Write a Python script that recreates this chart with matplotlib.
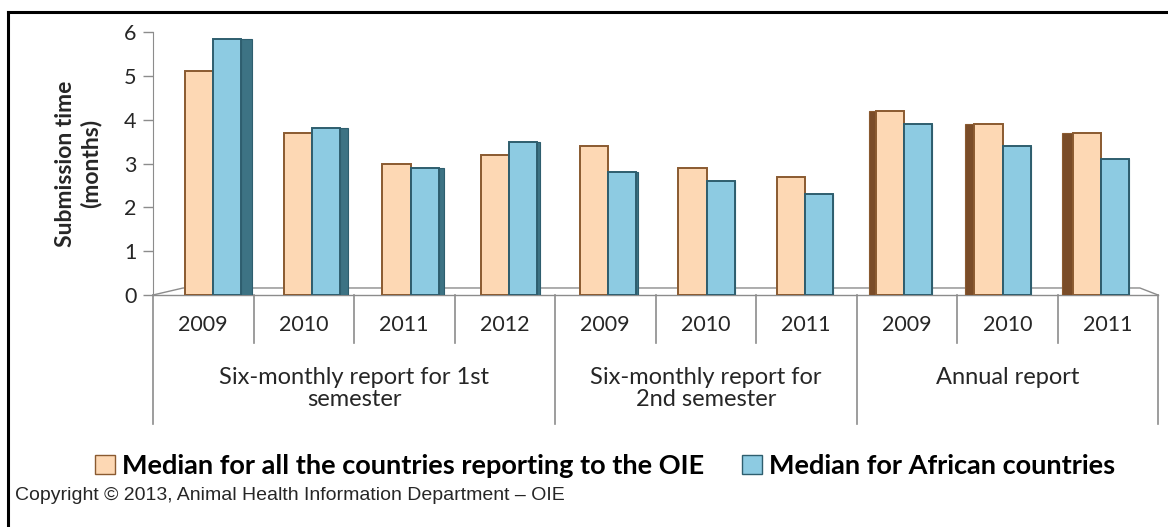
import matplotlib
matplotlib.use("Agg")
import matplotlib.pyplot as plt
import matplotlib.transforms as mtransforms
from matplotlib.patches import Patch
import numpy as np

# data
years = ["2009", "2010", "2011", "2012", "2009", "2010", "2011", "2009", "2010", "2011"]
groups = ["Six-monthly report for 1st\nsemester", "Six-monthly report for\n2nd semester", "Annual report"]
group_sizes = [4, 3, 3]
median_all = [5.1, 3.7, 3.0, 3.2, 3.4, 2.9, 2.7, 4.2, 3.9, 3.7]
median_africa = [5.85, 3.8, 2.9, 3.5, 2.8, 2.6, 2.3, 3.9, 3.4, 3.1]
series_names = ["Median for all the countries reporting to the OIE", "Median for African countries"]

orange_face, orange_edge, orange_side = "#FDD8B4", "#8A5A30", "#7A4C28"
blue_face, blue_edge, blue_side = "#8DCBE2", "#2E5E6E", "#3D7384"
grid_gray = "#8C8C8C"
txt = "#262626"

W, H = 1168, 527
fig = plt.figure(figsize=(W / 100, H / 100), dpi=100)
ax = fig.add_axes([153 / W, 1 - 295 / H, (1158 - 153) / W, (295 - 32) / H])

n = len(years)
idx = np.arange(n)
bw = 0.28
centers = idx + 0.60 - 0.0183 * idx
# depth of the 3d side faces (right side on blue at left, left side on orange at right)
right_depth = [0.11, 0.08, 0.05, 0.03, 0.015, 0.0, 0.0, 0.0, 0.0, 0.0]
left_depth = [0.0, 0.0, 0.0, 0.0, 0.0, 0.0, 0.0, 0.07, 0.09, 0.11]

ax.bar(centers - bw / 2, median_all, bw, color=orange_face, edgecolor=orange_edge, linewidth=1.4, zorder=3)
ax.bar(centers + bw / 2, median_africa, bw, color=blue_face, edgecolor=blue_edge, linewidth=1.4, zorder=3)
ax.bar(centers + bw, median_africa, right_depth, align="edge", color=blue_side, edgecolor=blue_edge,
       linewidth=0.8, zorder=2)
ax.bar(centers - bw, median_all, [-d for d in left_depth], align="edge", color=orange_side,
       edgecolor=orange_edge, linewidth=0.8, zorder=2)

ax.set_xlim(0, n)
ax.set_ylim(0, 6)
ax.set_yticks(range(7))
ax.set_xticks([])
for s in ["top", "right", "bottom"]:
    ax.spines[s].set_visible(False)
ax.spines["left"].set_color(grid_gray)
ax.tick_params(axis="y", colors=grid_gray, length=7, width=1, labelsize=15.5, labelcolor=txt, pad=5)
for lab in ax.get_yticklabels():
    lab.set_fontfamily("Lato")

# floor of the 3d plot
ax.plot([0, n], [0, 0], color=grid_gray, lw=1, clip_on=False, zorder=1)
ax.plot([0, 0.3, n - 0.18, n], [0, 0.16, 0.16, 0], color=grid_gray, lw=1, clip_on=False, zorder=1)

ax.set_ylabel("Submission time\n(months)", fontsize=16.5, fontweight="bold", family="Lato",
              labelpad=16, linespacing=1.2, color=txt)

# category axis below the plot
tr = mtransforms.blended_transform_factory(ax.transData, fig.transFigure)
bounds = np.cumsum([0] + group_sizes)
for i in range(n + 1):
    y_end = 424 if i in bounds else 343
    ax.plot([i, i], [1 - 295 / H, 1 - y_end / H], color=grid_gray, lw=1.2, transform=tr, clip_on=False)
for i, y in enumerate(years):
    ax.text(i + 0.5, 1 - 325 / H, y, transform=tr, ha="center", va="center", fontsize=15.5,
            family="Lato", color=txt)
for g, lab in enumerate(groups):
    gc = (bounds[g] + bounds[g + 1]) / 2
    ax.text(gc, 1 - 367 / H, lab, transform=tr, ha="center", va="top", fontsize=17,
            family="Lato", color=txt, linespacing=1.05)

handles = [Patch(facecolor=orange_face, edgecolor=orange_edge), Patch(facecolor=blue_face, edgecolor=blue_edge)]
fig.legend(handles, series_names, loc="center", bbox_to_anchor=(0.518, 1 - 466 / H), ncol=2, frameon=False,
           handlelength=0.75, handleheight=0.75, handletextpad=0.25, columnspacing=1.4,
           prop={"family": "Lato", "weight": "bold", "size": 19.5})

fig.text(15 / W, 1 - 496 / H, "Copyright \u00a9 2013, Animal Health Information Department \u2013 OIE",
         ha="left", va="center", fontsize=14, family="Liberation Sans", color=txt)

# frame of the picture
fig.add_artist(plt.Line2D([8 / W, 8 / W], [0, 1 - 12 / H], color="black", lw=2.2))
fig.add_artist(plt.Line2D([8 / W, 1], [1 - 12 / H, 1 - 12 / H], color="black", lw=2.2))

fig.savefig("out.png", dpi=100)
